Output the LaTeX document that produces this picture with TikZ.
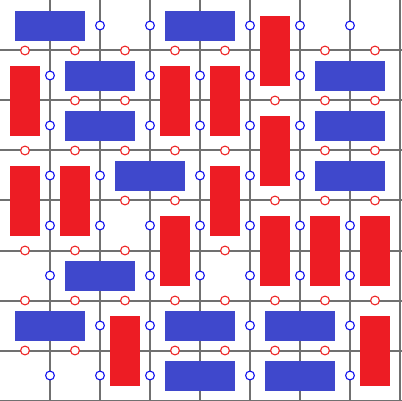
\documentclass[tikz,border=0pt]{standalone}
\definecolor{dblue}{RGB}{63,72,204}
\definecolor{dred}{RGB}{237,28,36}
\definecolor{cblue}{RGB}{20,20,240}
\definecolor{cred}{RGB}{240,40,40}
\definecolor{gline}{RGB}{112,112,112}
\begin{document}
\begin{tikzpicture}[x=1pt,y=-1pt,
  gridline/.style={draw=gline,line width=2pt},
  hdomino/.style={fill=dblue},
  vdomino/.style={fill=dred},
  bmark/.style={draw=cblue,fill=white,line width=1.1pt},
  rmark/.style={draw=cred,fill=white,line width=1.1pt}]
\useasboundingbox (0,0) rectangle (402,401);
\clip (0,0) rectangle (402,401);
\fill[white] (0,0) rectangle (402,401);
% grid
\foreach \i in {1,...,8} \draw[gridline] (50*\i,0) -- (50*\i,401);
\foreach \j in {1,...,8} \draw[gridline] (0,50*\j+0.5) -- (402,50*\j+0.5);
\draw[draw=gline!40,line width=1pt] (0,0) -- (402,0);
% horizontal dominoes
\foreach \c/\r in {0/0,3/0,1/1,6/1,1/2,6/2,2/3,6/3,1/5,0/6,3/6,5/6,3/7,5/7}
  \fill[hdomino] (50*\c+15,50*\r+11) rectangle (50*\c+85,50*\r+41);
% vertical dominoes
\foreach \c/\r in {5/0,0/1,3/1,4/1,5/2,0/3,1/3,4/3,3/4,5/4,6/4,7/4,2/6,7/6}
  \fill[vdomino] (50*\c+10,50*\r+16) rectangle (50*\c+40,50*\r+86);
% blue marks on vertical edges
\foreach \r/\ks in {0/{2,3,5,6,7},1/{1,3,4,5,6},2/{1,3,4,5,6},3/{1,2,4,5,6},
                   4/{1,2,3,4,5,6,7},5/{1,3,4,5,6,7},6/{2,3,5,7},7/{1,2,3,5,7}}
  \foreach \k in \ks
    \draw[bmark] (50*\k,50*\r+25.5) circle[radius=4.4];
% red marks on horizontal edges
\foreach \j/\cs in {1/{0,1,2,3,4,6,7},2/{1,2,5,6,7},3/{0,1,2,3,4,6,7},4/{2,3,5,6,7},
                   5/{0,1,2,4},6/{0,1,2,3,4,5,6,7},7/{0,1,3,4,5,6}}
  \foreach \c in \cs
    \draw[rmark] (50*\c+25,50*\j+0.5) circle[radius=4.4];
\end{tikzpicture}
\end{document}
